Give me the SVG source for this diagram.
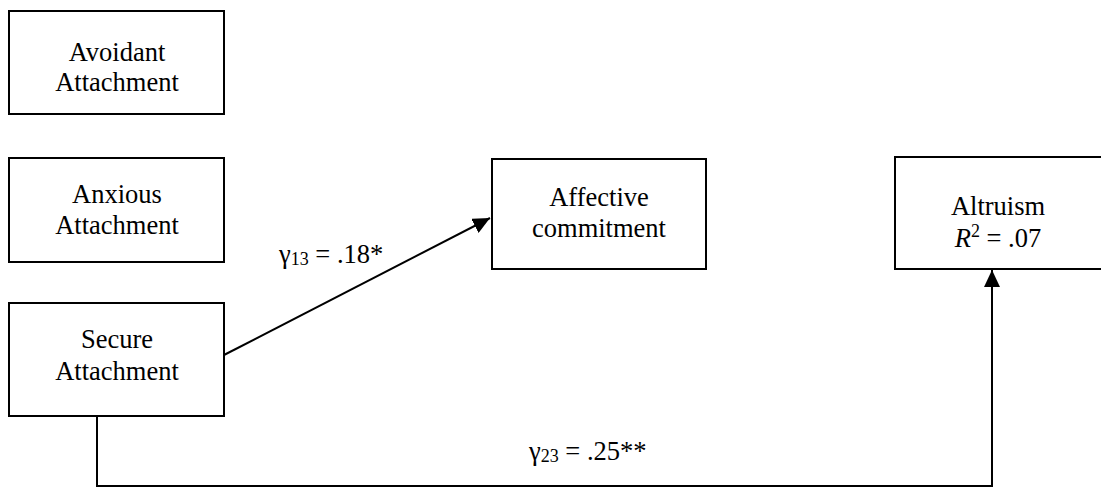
<svg xmlns="http://www.w3.org/2000/svg" width="1101" height="487" viewBox="0 0 1101 487">
<style>
.box{fill:#fff;stroke:#000;stroke-width:2}
.t{font-family:"Liberation Serif","Times New Roman",serif;font-size:26.5px;fill:#000;text-anchor:middle}
.lab{font-family:"Liberation Serif","Times New Roman",serif;font-size:26.5px;fill:#000}
.sub{font-size:18px}
.conn{fill:none;stroke:#000;stroke-width:2}
</style>
<defs>
<marker id="arr" markerUnits="userSpaceOnUse" markerWidth="18" markerHeight="16" refX="17" refY="8" orient="auto">
<path d="M0,0 L17,8 L0,16 Z" fill="#000"/>
</marker>
</defs>
<rect width="1101" height="487" fill="#fff"/>
<g id="connectors">
<line class="conn" x1="224" y1="355" x2="490" y2="218" marker-end="url(#arr)"/>
<polyline class="conn" points="97,416 97,486 992,486 992,270" marker-end="url(#arr)"/>
</g>
<g id="avoidant">
<rect class="box" x="9" y="11" width="215" height="103"/>
<text class="t" x="117" y="61">Avoidant</text>
<text class="t" x="117" y="91">Attachment</text>
</g>
<g id="anxious">
<rect class="box" x="9" y="158" width="215" height="104"/>
<text class="t" x="117" y="203">Anxious</text>
<text class="t" x="117" y="234">Attachment</text>
</g>
<g id="secure">
<rect class="box" x="9" y="303" width="215" height="113"/>
<text class="t" x="117" y="348">Secure</text>
<text class="t" x="117" y="380">Attachment</text>
</g>
<g id="affective">
<rect class="box" x="492" y="159" width="214" height="110"/>
<text class="t" x="599" y="206">Affective</text>
<text class="t" x="599" y="237">commitment</text>
</g>
<g id="altruism">
<rect class="box" x="895" y="157" width="214" height="112"/>
<text class="t" x="998" y="215">Altruism</text>
<text class="t" x="998" y="247"><tspan font-style="italic">R</tspan><tspan class="sub" dy="-10">2</tspan><tspan dy="10"> = .07</tspan></text>
</g>
<g id="labels">
<text class="lab" x="279" y="263">γ<tspan class="sub" dy="2">13</tspan><tspan dy="-2"> = .18*</tspan></text>
<text class="lab" x="529" y="460">γ<tspan class="sub" dy="2">23</tspan><tspan dy="-2"> = .25**</tspan></text>
</g>
</svg>
